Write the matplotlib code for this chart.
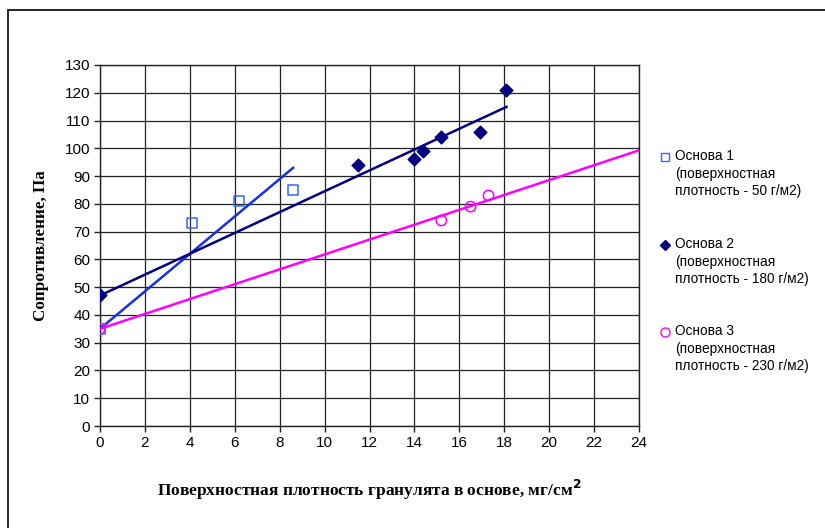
import matplotlib
matplotlib.use('Agg')
import matplotlib.pyplot as plt
from matplotlib.lines import Line2D
import numpy as np

# данные
x1 = [0, 4.1, 6.2, 8.6]
y1 = [35, 73, 81, 85]
x2 = [0, 11.5, 14.0, 14.4, 15.2, 16.9, 18.1]
y2 = [47, 94, 96, 99, 104, 106, 121]
x3 = [0, 15.2, 16.5, 17.3]
y3 = [35, 74, 79, 83]

labels = ['Основа 1\n(поверхностная\nплотность - 50 г/м2)',
          'Основа 2\n(поверхностная\nплотность - 180 г/м2)',
          'Основа 3\n(поверхностная\nплотность - 230 г/м2)']
trend_end = [8.6, 18.1, 24]

plt.rcParams['font.family'] = ['Liberation Sans', 'DejaVu Sans']

fig = plt.figure(figsize=(8.25, 5.28), dpi=100)
ax = fig.add_axes([100 / 825, 1 - 426 / 528, 539 / 825, 361 / 528])

# рамка всей диаграммы (видны только левый и верхний край)
fig.patches.append(plt.Rectangle((8 / 825, -0.1), 1.2, 1 - 10 / 528 + 0.1,
                                 transform=fig.transFigure, fill=False,
                                 edgecolor='black', lw=1.2))


def trend(x, y, xend):
    # линия тренда с фиксированным пересечением (Excel)
    x = np.array(x, dtype=float)
    y = np.array(y, dtype=float)
    b = y[0]
    k = np.sum(x * (y - b)) / np.sum(x * x)
    xs = np.array([0, xend])
    return xs, b + k * xs


# линии тренда
xs, ys = trend(x1, y1, trend_end[0])
ax.plot(xs, ys, color='#1530E8', lw=1.8, zorder=3)
xs, ys = trend(x2, y2, trend_end[1])
ax.plot(xs, ys, color='#000080', lw=1.8, zorder=3)
xs, ys = trend(x3, y3, trend_end[2])
ax.plot(xs, ys, color='#FF00FF', lw=1.8, zorder=3)

# точки
ax.scatter(x1, y1, marker='s', s=50, facecolors='none', edgecolors='#3366FF',
           linewidths=1.1, zorder=4)
ax.scatter(x2, y2, marker='D', s=42, color='#000080', zorder=4)
ax.scatter(x3, y3, marker='o', s=55, facecolors='none', edgecolors='#FF00FF',
           linewidths=1.1, zorder=4)

ax.set_xlim(0, 24)
ax.set_ylim(0, 130)
ax.set_xticks(range(0, 25, 2))
ax.set_yticks(range(0, 131, 10))
ax.grid(True, color='#222222', lw=0.9)
ax.set_axisbelow(True)
for s in ax.spines.values():
    s.set_color('#222222')
    s.set_linewidth(1.0)
ax.tick_params(labelsize=11, length=4, width=1, color='#222222', pad=3)

ax.set_ylabel('Сопротивление, Па', family=['Liberation Serif', 'DejaVu Serif'],
              fontweight='bold', fontsize=12.3, labelpad=11)
ax.set_xlabel('Поверхностная плотность гранулята в основе, мг/см$^\\mathbf{2}$',
              family=['Liberation Serif', 'DejaVu Serif'],
              fontweight='bold', fontsize=12.5, labelpad=20)

# легенда: маркер на уровне первой строки подписи
leg_markers = [dict(marker='s', mfc='none', mec='#3366FF', ms=6, mew=1.0),
               dict(marker='D', mfc='#000080', mec='#000080', ms=5.5),
               dict(marker='o', mfc='none', mec='#FF00FF', ms=6.5, mew=1.0)]
leg_y = [157, 245, 332]
for i in range(3):
    yy = 1 - leg_y[i] / 528
    fig.add_artist(Line2D([665 / 825], [yy], transform=fig.transFigure,
                          linestyle='none', **leg_markers[i]))
    fig.text(675 / 825, yy + 8 / 528, labels[i], fontsize=9.8, va='top',
             ha='left', linespacing=1.33)

fig.savefig('out.png', dpi=100)
